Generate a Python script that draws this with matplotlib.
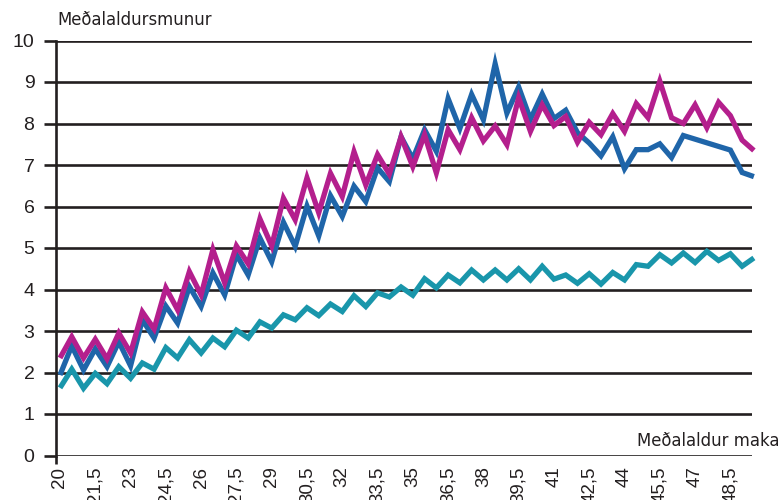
import numpy as np
import matplotlib
matplotlib.use("Agg")
import matplotlib.pyplot as plt
from matplotlib.ticker import FixedLocator, FuncFormatter

# x: average age of spouse, step 0.5 from 20 to 49.5
ages = [20 + 0.5 * i for i in range(60)]

magenta = [2.35, 2.86, 2.35, 2.80, 2.33, 2.95, 2.47, 3.46, 3.05, 4.04,
           3.51, 4.43, 3.87, 4.96, 4.16, 5.05, 4.62, 5.70, 5.05, 6.20,
           5.68, 6.69, 5.85, 6.80, 6.24, 7.32, 6.52, 7.25, 6.78, 7.68,
           6.96, 7.73, 6.81, 7.85, 7.37, 8.14, 7.58, 7.94, 7.49, 8.62,
           7.81, 8.45, 7.95, 8.17, 7.55, 8.03, 7.73, 8.24, 7.81, 8.48,
           8.14, 9.02, 8.14, 8.00, 8.45, 7.90, 8.51, 8.19, 7.60, 7.35]

blue = [1.94, 2.64, 2.06, 2.57, 2.14, 2.74, 2.16, 3.27, 2.83, 3.60,
        3.19, 4.07, 3.59, 4.40, 3.87, 4.84, 4.35, 5.24, 4.67, 5.62,
        5.04, 6.01, 5.29, 6.26, 5.76, 6.49, 6.12, 6.93, 6.60, 7.68,
        7.15, 7.85, 7.33, 8.60, 7.88, 8.70, 8.09, 9.44, 8.25, 8.88,
        8.10, 8.71, 8.12, 8.32, 7.78, 7.53, 7.22, 7.68, 6.91, 7.37,
        7.37, 7.51, 7.18, 7.71, None, None, None, 7.36, 6.82, 6.72]

teal = [1.63, 2.08, 1.62, 1.98, 1.73, 2.14, 1.86, 2.23, 2.08, 2.60,
        2.35, 2.79, 2.47, 2.83, 2.62, 3.02, 2.83, 3.22, 3.07, 3.39,
        3.27, 3.56, 3.37, 3.65, 3.47, 3.85, 3.59, 3.92, 3.82, 4.06,
        3.86, 4.26, 4.04, 4.35, 4.16, 4.47, 4.23, 4.47, 4.23, 4.50,
        4.23, 4.56, 4.25, 4.35, 4.15, 4.38, 4.13, 4.41, 4.23, 4.60,
        4.56, 4.84, 4.64, 4.88, 4.65, 4.92, 4.70, 4.86, 4.56, 4.76]

xtick_values = [20 + 1.5 * i for i in range(20)]
ytick_values = list(range(0, 11))

C_BLUE = "#1f65a9"
C_MAG = "#b41f8d"
C_TEAL = "#1996ab"
C_GRID = "#231f20"

W, H = 780, 500
fig = plt.figure(figsize=(W / 100, H / 100), dpi=100)
ax = fig.add_axes([56 / W, (H - 455.5) / H, (752 - 56) / W, (455.5 - 40.5) / H])

def valid(xs, ys):
    pts = [(x, y) for x, y in zip(xs, ys) if y is not None]
    return [p[0] for p in pts], [p[1] for p in pts]

lw = 3.8
for series, col in [(teal, C_TEAL), (blue, C_BLUE), (magenta, C_MAG)]:
    xs, ys = valid(ages, series)
    ax.plot(xs, ys, color=col, lw=lw, solid_joinstyle="miter",
            solid_capstyle="butt", clip_on=False, zorder=3)

ax.set_xlim(19.83, 49.42)
ax.set_ylim(0, 10)

for s in ["top", "right", "bottom"]:
    ax.spines[s].set_visible(False)
ax.spines["left"].set_color(C_GRID)
ax.spines["left"].set_linewidth(1.9)
ax.spines["left"].set_zorder(4)

ax.yaxis.set_major_locator(FixedLocator(ytick_values))
ax.grid(axis="y", color=C_GRID, lw=1.9, zorder=1)
ax.tick_params(axis="y", length=8.5, width=1.9, color=C_GRID, pad=7,
               labelsize=14, labelcolor="#231f20")

ax.xaxis.set_major_locator(FixedLocator(xtick_values))
ax.xaxis.set_major_formatter(FuncFormatter(
    lambda v, p: (("%g" % v).replace(".", ","))))
ax.tick_params(axis="x", length=0, pad=8, labelsize=13.5, labelrotation=90,
               labelcolor="#231f20")
ax.set_xticks([19.83], minor=True)
ax.tick_params(axis="x", which="minor", length=5.5, width=1.9, color=C_GRID,
               direction="out")

for lab in ax.get_xticklabels() + ax.get_yticklabels():
    lab.set_fontfamily(["Liberation Sans", "DejaVu Sans"])

fig.text(57 / W, 1 - 20 / H, "Meðalaldursmunur", fontsize=11.9,
         family=["DejaVu Sans"], color="#231f20",
         ha="left", va="center")
fig.text(637 / W, 1 - 441 / H, "Meðalaldur maka", fontsize=11.9,
         family=["DejaVu Sans"], color="#231f20",
         ha="left", va="center")

fig.savefig("out.png", dpi=100)
